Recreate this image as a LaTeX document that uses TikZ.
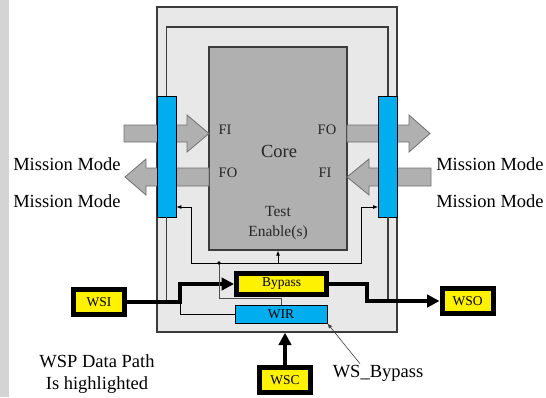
\documentclass[tikz,border=0pt]{standalone}
\usepackage{fontspec}
\setmainfont{Liberation Serif}
\newfontfamily\timesfam{Liberation Serif}
\usetikzlibrary{arrows.meta,positioning,calc}

\definecolor{wrapgray}{HTML}{E8E8E8}
\definecolor{coregray}{HTML}{B0B0B0}
\definecolor{edgegray}{HTML}{3C3C3C}
\definecolor{stripgray}{HTML}{D4D4D4}
\definecolor{arrowedge}{HTML}{707070}

\tikzset{
  cell/.style={draw=black, fill=cyan, line width=0.8pt, minimum width=19pt, minimum height=121pt, inner sep=0pt},
  term/.style={draw=black, fill=yellow, line width=5pt, inner sep=0pt, minimum width=51pt, minimum height=25pt,
    font=\timesfam\fontsize{13.5}{15}\selectfont},
  wire/.style={draw=edgegray, line width=1.1pt},
  ctrl/.style={draw=black, line width=0.8pt, -{Latex[length=5pt,width=4pt]}},
  datapath/.style={line width=3.4pt, -{Triangle[length=12.5pt,width=12.5pt]}},
  blockarrow/.style={fill=coregray, draw=arrowedge, line width=0.8pt},
  biglbl/.style={font=\timesfam\fontsize{18.5}{22}\selectfont, inner sep=0pt},
  portlbl/.style={font=\timesfam\fontsize{14.5}{16}\selectfont, text=black!85, inner sep=0pt},
}

\begin{document}
\begin{tikzpicture}[x=1pt,y=-1pt]
\useasboundingbox (0,0) rectangle (546,397);
% side strip
\fill[stripgray] (0,0) rectangle (9,397);

% wrapper and core
\node[draw=edgegray, fill=wrapgray, line width=1.3pt, minimum width=240pt, minimum height=325pt, inner sep=0pt] (wrap) at (277,169.5) {};
\coordinate (loop) at (277,27);
\node[draw=edgegray, fill=coregray, line width=1.3pt, minimum width=138pt, minimum height=203pt, inner sep=0pt] (core) at (278,148.5) {};

% functional (mission mode) arrows
\draw[blockarrow] (124,125) -- (187,125) -- (187,115) -- (209,133.5) -- (187,152) -- (187,142) -- (124,142) -- cycle;
\draw[blockarrow] (209,168) -- (146,168) -- (146,159) -- (125,177) -- (146,195) -- (146,186) -- (209,186) -- cycle;
\draw[blockarrow] (347,125) -- (409,125) -- (409,115) -- (430,133.5) -- (409,152) -- (409,142) -- (347,142) -- cycle;
\draw[blockarrow] (431,168) -- (369,168) -- (369,159) -- (347,177) -- (369,195) -- (369,186) -- (431,186) -- cycle;

% boundary cells
\draw[wire] (166.5,96) |- (loop) -| (388,96);
\node[cell] (lcell) at (166.5,156.5) {};
\node[cell] (rcell) at (388,156.5) {};

% core labels
\node[portlbl] (fil) at (225,130) {FI};
\node[portlbl] (fol) at (327,130) {FO};
\node[portlbl] (for) at (228,173) {FO};
\node[portlbl] (fir) at (325,173) {FI};
\node[biglbl, text=black!85] (corelbl) at (279,151) {Core};
\node[portlbl, font=\timesfam\fontsize{15.5}{20}\selectfont, align=center] (tenable) at (278,223) {Test\\Enable(s)};

% mission mode labels
\node[biglbl] (mml1) at (67,164) {Mission Mode};
\node[biglbl] (mml2) at (67,201) {Mission Mode};
\node[biglbl] (mmr1) at (490,164) {Mission Mode};
\node[biglbl] (mmr2) at (490,201) {Mission Mode};

% serial ports and registers
\node[term] (wsi) at (99,302) {WSI};
\node[term] (wso) at (467.5,301) {WSO};
\node[term] (wsc) at (285,380) {WSC};
\node[term, minimum width=90pt, minimum height=21pt] (bypass) at (281.5,284) {Bypass};
\node[draw=black, fill=cyan, line width=0.8pt, minimum width=92pt, minimum height=18pt, inner sep=0pt,
  font=\timesfam\fontsize{13.5}{15}\selectfont] (wir) at (281,314) {\raisebox{-2pt}{WIR}};

% boundary chain
\draw[wire] (lcell.south) -- (lcell.south |- wsi.east);
\draw[wire] (rcell.south) -- (rcell.south |- wso.west);

% WSP data path
\coordinate (wsijog) at (180,302);
\coordinate (wsojog) at (367,301);
\draw[line width=0.8pt] (wir.west) -| (wsijog);
\draw[datapath] (wsi.east) -- (wsijog) |- (bypass.west);
\draw[datapath] (bypass.east) -| (wsojog) -- (wso.west);
\draw[datapath] (wsc.north) -- (wsc.north |- wrap.south);

% test enables from WIR
\coordinate (tap) at (219,263);
\coordinate (tapbend) at (219,298);
\coordinate (lbend) at (191,207);
\coordinate (rbend) at (361,207);
\draw[line width=0.8pt, draw=black!70] (wir.north) |- (tapbend) -- (tap);
\draw[ctrl] (tap) -| (lbend) -- (lcell.east |- lbend);
\draw[ctrl] (tap) -| (rbend) -- (rcell.west |- rbend);
\draw[ctrl] (tap -| core.south) -- (core.south);
\fill (tap) circle (1.8pt);

% notes
\node[biglbl] (wsb) at (378,373) {WS\_Bypass};
\draw[line width=0.6pt, draw=black!75, -{Latex[length=5pt,width=4pt]}] ($(wsb.north)+(-18,-1)$) -- (wir.south east);
\node[biglbl, align=center] (note) at (97,374) {WSP Data Path\\Is highlighted};

\end{tikzpicture}
\end{document}
